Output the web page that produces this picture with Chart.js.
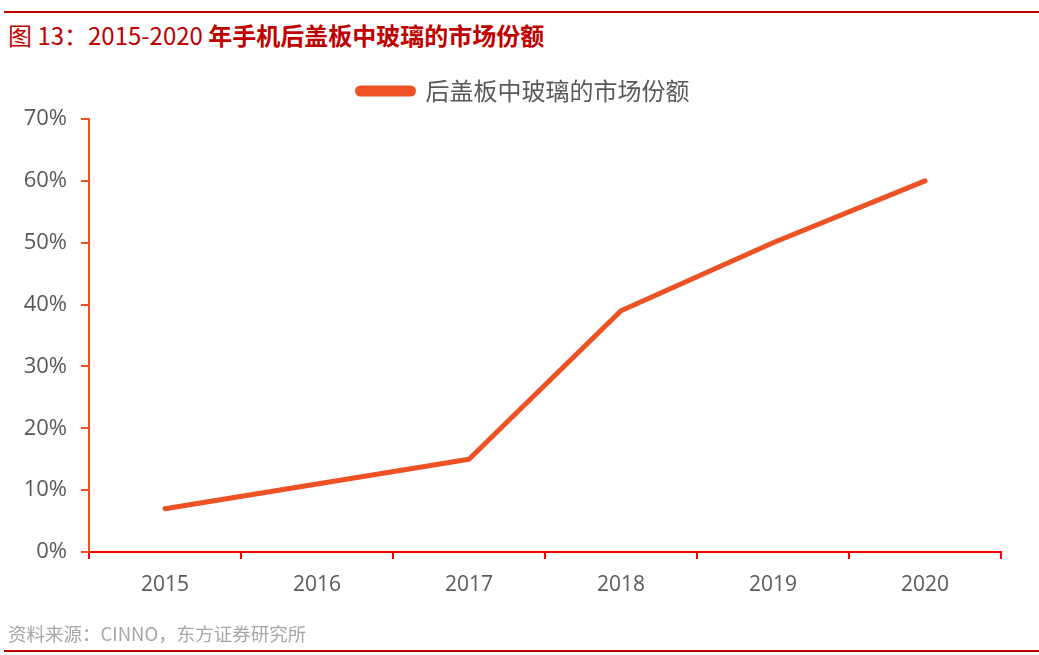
<!DOCTYPE html>
<html>
<head>
<meta charset="utf-8">
<script src="https://cdn.jsdelivr.net/npm/chart.js@4.4.1/dist/chart.umd.min.js"></script>
<style>
  html, body { margin: 0; padding: 0; background: #fff; }
  body { width: 1039px; height: 655px; position: relative; overflow: hidden; font-family: "Noto Sans CJK SC", "Noto Sans", sans-serif; }
  .rule { position: absolute; left: 4px; right: 0; height: 2px; background: #C00000; }
  #title { position: absolute; left: 8px; top: 18px; font-size: 24px; color: #C00000; white-space: nowrap; line-height: 34px; }
  #title b { font-weight: bold; }
  #source { position: absolute; left: 8px; top: 620px; font-size: 18.5px; color: #a6a6a6; white-space: nowrap; line-height: 26px; }
  #wrap { position: absolute; left: 0; top: 0; width: 1039px; height: 655px; }
</style>
</head>
<body>
<div class="rule" style="top:11px"></div>
<div id="title">图&nbsp;13：2015-2020 <b>年手机后盖板中玻璃的市场份额</b></div>
<div id="wrap"><canvas id="c"></canvas></div>
<div id="source">资料来源：CINNO，东方证券研究所</div>
<div class="rule" style="top:650px"></div>
<script>
const categories = ["2015", "2016", "2017", "2018", "2019", "2020"];
const seriesName = "后盖板中玻璃的市场份额";
const shareValues = [7, 11, 15, 39, 50, 60];
const yTicks = [0, 10, 20, 30, 40, 50, 60, 70];

const lineColor = "#EE5124";

const legendTweak = {
  id: "legendTweak",
  beforeInit(chart) {
    const orig = chart.legend.fit;
    chart.legend.fit = function () {
      orig.call(this);
      this.height += 6;
    };
  },
  afterLayout(chart) {
    chart.legend.left += 46;
  }
};

new Chart(document.getElementById("c"), {
  type: "line",
  data: {
    labels: categories,
    datasets: [{
      label: seriesName,
      data: shareValues,
      borderColor: lineColor,
      backgroundColor: lineColor,
      borderWidth: 5,
      borderCapStyle: "round",
      borderJoinStyle: "round",
      pointRadius: 0,
      tension: 0
    }]
  },
  plugins: [legendTweak],
  options: {
    responsive: true,
    maintainAspectRatio: false,
    animation: false,
    layout: { padding: { top: 69, right: 38, bottom: 0, left: 0 } },
    plugins: {
      tooltip: { enabled: false },
      legend: {
        position: "top",
        labels: {
          boxWidth: 56,
          boxHeight: 6,
          useBorderRadius: true,
          borderRadius: 3,
          padding: 10,
          color: "#595959",
          font: { family: '"Noto Sans CJK SC", sans-serif', size: 24, weight: "normal" }
        }
      }
    },
    scales: {
      x: {
        type: "category",
        offset: true,
        afterFit: (s) => { s.height = 103; },
        border: { display: true, color: "#FF0000", width: 2 },
        grid: { display: true, drawOnChartArea: false, drawTicks: true, tickLength: 7, color: "#FF0000", lineWidth: 2, offset: true },
        ticks: { color: "#595959", font: { family: '"Open Sans", "Noto Sans CJK SC", sans-serif', size: 21 }, padding: 13, maxRotation: 0 }
      },
      y: {
        min: 0,
        max: 70,
        afterFit: (s) => { s.width = 89; },
        afterBuildTicks: (s) => { s.ticks = yTicks.map(v => ({ value: v })); },
        border: { display: true, color: lineColor, width: 2 },
        grid: { display: true, drawOnChartArea: false, drawTicks: true, tickLength: 8, color: lineColor, lineWidth: 2 },
        ticks: { color: "#595959", font: { family: '"Open Sans", "Noto Sans CJK SC", sans-serif', size: 22 }, padding: 14, callback: (v) => v + "%" }
      }
    }
  }
});
</script>
</body>
</html>
